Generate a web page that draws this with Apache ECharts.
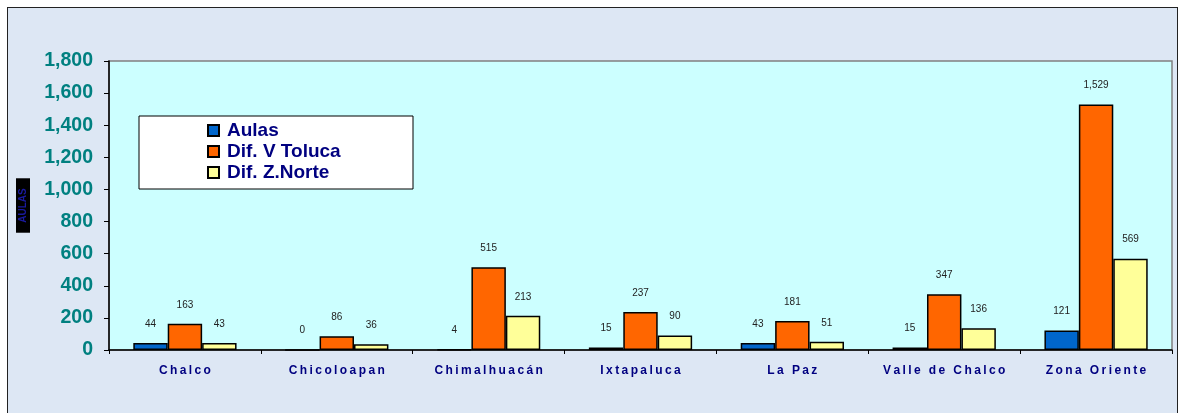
<!DOCTYPE html>
<html><head><meta charset="utf-8">
<script src="https://cdn.jsdelivr.net/npm/echarts@6/dist/echarts.min.js"></script>
<style>
html,body{margin:0;padding:0;background:#fff;overflow:hidden;}
#frame{position:absolute;left:7px;top:7px;width:1169px;height:420px;border:1px solid #222;background:#dde7f4;}
#chart{position:absolute;left:0;top:0;width:1181px;height:413px;}
</style></head><body>
<div id="frame"></div><div id="chart"></div>
<script>
const categories = ['Chalco','Chicoloapan','Chimalhuacán','Ixtapaluca','La Paz','Valle de Chalco','Zona Oriente'];
const seriesNames = ['Aulas','Dif. V Toluca','Dif. Z.Norte'];
const aulas = [44, 0, 4, 15, 43, 15, 121];
const difVToluca = [163, 86, 515, 237, 181, 347, 1529];
const difZNorte = [43, 36, 213, 90, 51, 136, 569];
const yMin = 0, yMax = 1800, yInterval = 200;
const colors = ['#0066cc', '#ff6600', '#ffff99'];

const fmt = v => Number(v).toLocaleString('en-US');
const font = 'Arial, "Liberation Sans", sans-serif';

const chart = echarts.init(document.getElementById('chart'));
const mk = (name, data, color) => ({
  name, type: 'bar', data,
  barGap: '0%', barCategoryGap: '32%',
  itemStyle: { color, borderColor: '#000', borderWidth: 1.5 },
  label: { show: true, position: 'top', distance: 14, fontSize: 10, color: '#222', fontFamily: font,
           formatter: p => fmt(p.value) }
});
chart.setOption({
  animation: false,
  backgroundColor: 'transparent',
  grid: { left: 109, right: 9, top: 61, bottom: 63, show: true, backgroundColor: '#ccffff', borderColor: '#808080', borderWidth: 1.5 },
  graphic: [{ type: 'rect', z: 3, shape: { x: 139, y: 116, width: 274, height: 73 },
              style: { fill: '#fff', stroke: '#000', lineWidth: 1 } }],
  legend: {
    orient: 'vertical', left: 207, top: 121, padding: 0, itemWidth: 11, itemHeight: 11, itemGap: 2, z: 5,
    icon: 'rect',
    data: seriesNames,
    textStyle: { fontSize: 19, fontWeight: 'bold', color: '#000080', fontFamily: font, padding: [0, 0, 0, 3] }
  },
  xAxis: {
    type: 'category', data: categories,
    axisLine: { lineStyle: { color: '#000', width: 1.5 } },
    axisTick: { show: true, length: 4, lineStyle: { color: '#000' } },
    axisLabel: { interval: 0, margin: 15, fontSize: 12, fontWeight: 'bold', color: '#000080', fontFamily: font,
                 formatter: v => v.split('').join('\u2009') }
  },
  yAxis: {
    type: 'value', min: yMin, max: yMax, interval: yInterval,
    name: 'AULAS', nameLocation: 'middle', nameRotate: 90, nameGap: 79,
    nameTextStyle: { fontSize: 10, fontWeight: 'bold', color: '#1a1aa0', backgroundColor: '#000', padding: [2, 10], fontFamily: font },
    axisLine: { show: true, lineStyle: { color: '#000', width: 1.5 } },
    axisTick: { show: true, length: 5, lineStyle: { color: '#000' } },
    splitLine: { show: false },
    axisLabel: { margin: 16, fontSize: 19.5, fontWeight: 'bold', color: '#008080', fontFamily: font, formatter: v => fmt(v) }
  },
  series: [ mk(seriesNames[0], aulas, colors[0]), mk(seriesNames[1], difVToluca, colors[1]), mk(seriesNames[2], difZNorte, colors[2]) ]
});
</script></body></html>
